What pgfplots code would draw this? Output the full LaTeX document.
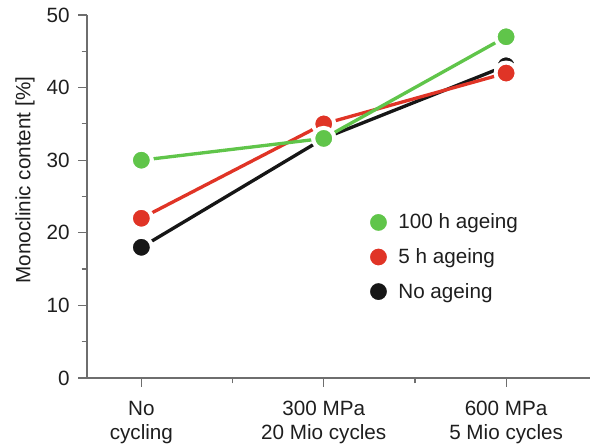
\documentclass[border=0pt]{standalone}
\usepackage{pgfplots}
\pgfplotsset{compat=1.18}
\usepackage{fontspec}
\setmainfont{Liberation Sans}
\definecolor{cgreen}{RGB}{96,197,74}
\definecolor{cred}{RGB}{224,52,38}
\definecolor{cblack}{RGB}{22,22,22}
\definecolor{axgray}{RGB}{110,110,110}
\definecolor{txt}{RGB}{30,30,30}
\newcommand{\chartfont}{\fontsize{15.5}{18}\selectfont}
\begin{document}
\begin{tikzpicture}[font=\chartfont]
\useasboundingbox (-65.25pt,-50.25pt) rectangle (381.75pt,283.5pt);
\begin{axis}[
  at={(0,0)}, anchor=south west,
  width=377.25pt, height=272.25pt, scale only axis,
  xmin=-0.298, xmax=2.46, ymin=0, ymax=50,
  axis x line=bottom, axis y line=left,
  axis line style={axgray, line width=0.9pt, -},
  xtick={0,1,2},
  xticklabels={{No\\cycling},{300 MPa\\20 Mio cycles},{600 MPa\\5 Mio cycles}},
  minor xtick={0.5,1.5},
  ytick={0,10,...,50}, minor ytick={5,15,...,45},
  tick style={axgray, line width=0.9pt},
  tick align=outside, major tick length=6.5pt, minor tick length=4pt,
  /pgf/number format/assume math mode=true,
  tick label style={font=\chartfont, text=txt},
  xticklabel style={align=center, yshift=-7.5pt},
  yticklabel style={xshift=-3pt},
  ylabel={Monoclinic content [\%]},
  ylabel style={at={(axis description cs:-0.123,0.545)}, anchor=center, font=\chartfont, text=txt},
  clip=false,
  legend image code/.code={\draw[#1, only marks, mark repeat=2, mark phase=2] plot coordinates {(0cm,0cm) (0.3cm,0cm) (0.6cm,0cm)};\path (20.2pt,0pt);},
  reverse legend,
  legend cell align=left,
  legend style={draw=none, fill=none, at={(axis description cs:0.558,0.46)}, anchor=north west, font=\chartfont, text=txt, row sep=9.2pt, inner sep=0pt},
  every axis plot/.append style={line width=2.5pt, mark=*, mark size=7.9pt},
]
\addplot[cblack, mark options={draw=white, line width=3pt, fill=cblack}] coordinates {(0,18) (1,33) (2,43)};
\addlegendentry{No ageing}
\addplot[cred, mark options={draw=white, line width=3pt, fill=cred}] coordinates {(0,22) (1,35) (2,42)};
\addlegendentry{5 h ageing}
\addplot[cgreen, mark options={draw=white, line width=3pt, fill=cgreen}] coordinates {(0,30) (1,33) (2,47)};
\addlegendentry{100 h ageing}
\end{axis}
\end{tikzpicture}
\end{document}
